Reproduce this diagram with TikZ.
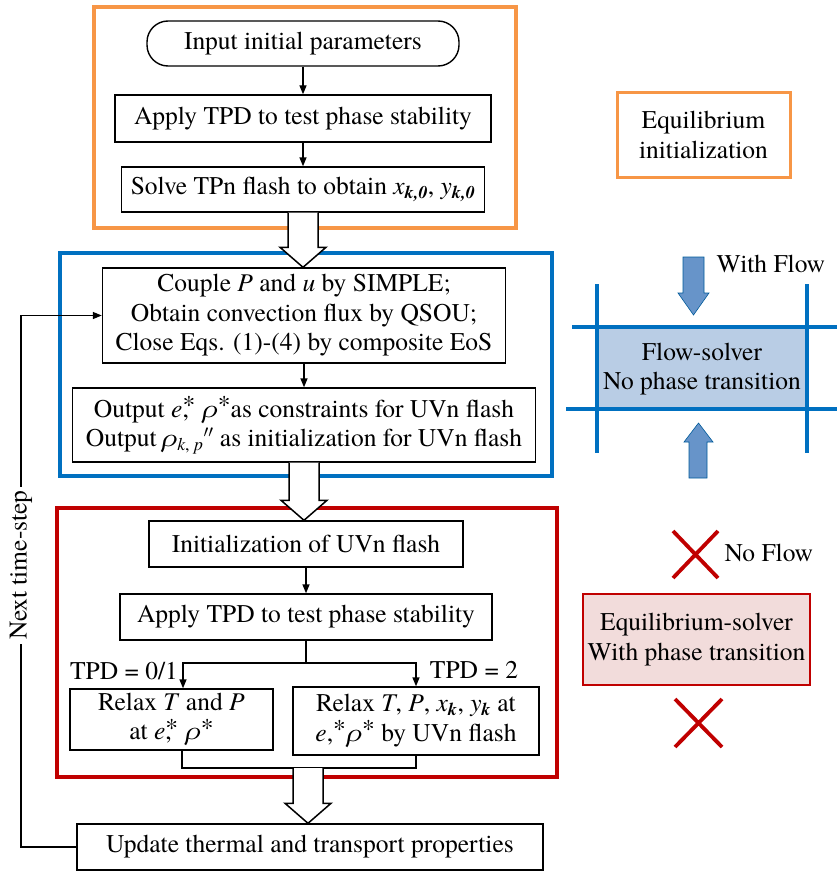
\documentclass[tikz,border=0pt]{standalone}
\usepackage{fontspec}
\setmainfont{texgyretermes}[Extension=.otf, UprightFont=*-regular, ItalicFont=*-italic, BoldFont=*-bold, BoldItalicFont=*-bolditalic]
\usetikzlibrary{calc,arrows.meta,positioning,shapes}
\definecolor{initorange}{RGB}{247,150,70}
\definecolor{flowblue}{RGB}{0,112,192}
\definecolor{eqred}{RGB}{192,0,0}
\definecolor{cellfill}{RGB}{185,205,229}
\definecolor{fatfill}{RGB}{103,148,201}
\definecolor{eqfill}{RGB}{242,220,219}
\tikzset{
    block/.style = {draw, rectangle, line width=1.4pt, align=center, inner sep=2pt},
    start/.style = {block, rounded corners=21pt},
    arrow/.style = {draw, line width=1.4pt, -{Triangle[length=9pt,width=7pt]}},
    line/.style = {draw, line width=1.4pt},
    frame/.style = {draw, line width=3.4pt},
    hollow/.style = {draw, fill=white, line width=1.5pt, line join=miter},
    cross/.style = {draw=eqred, line width=3.8pt},
    cell/.style = {draw=flowblue, line width=3.2pt},
    fat/.style = {fill=fatfill, draw=flowblue!80!black, line width=0.6pt}
}
\newcommand{\upstar}{\raisebox{0.15em}{*}}
\newcommand{\estar}{\textit{e}\rlap{,}\upstar}
\newcommand{\hollowarrow}[2]{%
    \draw[hollow] ($(#1)+(-15,0)$) -- ($(#2)+(-15,-20)$) -- ($(#2)+(-23,-20)$) -- (#2)
        -- ($(#2)+(23,-20)$) -- ($(#2)+(15,-20)$) -- ($(#1)+(15,0)$);}

\begin{document}
\begin{tikzpicture}[x=1pt, y=-1pt, font=\fontsize{25.5}{29.5}\selectfont]
    \useasboundingbox (0,0) rectangle (837,872);
    % solver frames
    \draw[frame, initorange] (94,7) rectangle (516,228);
    \draw[frame, flowblue] (60,253) rectangle (552,476);
    \draw[frame, eqred] (57,508) rectangle (557,777);

    \node[start, minimum width=312pt, minimum height=45pt] (inp) at (303,43.5) {Input initial parameters};
    \node[block, minimum width=376pt, minimum height=47pt] (tpd1) at (303,118.5) {Apply TPD to test phase stability};
    \node[block, minimum width=363pt, minimum height=45pt] (tpn) at (303,189.5) {Solve TPn flash to obtain \textit{x}\textsubscript{\textbf{\textit{k,0}}}, \textit{y}\textsubscript{\textbf{\textit{k,0}}}};
    \node[block, minimum width=403pt, minimum height=95pt] (simple) at (304,315.5) {Couple \textit{P} and \textit{u} by SIMPLE;\\Obtain convection flux by QSOU;\\Close Eqs. (1)-(4) by composite EoS};
    \node[block, minimum width=463pt, minimum height=74pt] (outp) at (304,425) {Output \estar\ \textit{ρ}\upstar as constraints for UVn flash\\Output\,\textit{ρ}\textsubscript{\textit{k}, \textit{p}}$''$ as initialization for UVn flash};
    \node[block, minimum width=314pt, minimum height=46pt] (uvinit) at (306,544) {Initialization of UVn flash};
    \node[block, minimum width=372pt, minimum height=46pt] (tpd2) at (306,617) {Apply TPD to test phase stability};
    \node[block, minimum width=203pt, minimum height=61pt] (relax1) at (171.5,719.5) {Relax \textit{T} and \textit{P}\\at \estar\ \textit{ρ}\upstar};
    \node[block, minimum width=246pt, minimum height=68pt] (relax2) at (416,721) {Relax \textit{T}, \textit{P}, \textit{x}\textsubscript{\textbf{\textit{k}}}, \textit{y}\textsubscript{\textbf{\textit{k}}} at\\\textit{e},\upstar\textit{ρ}\upstar\ by UVn flash};
    \node[block, minimum width=466pt, minimum height=46pt] (upd) at (310,847) {Update thermal and transport properties};

    \coordinate (br) at (306,663);
    \coordinate (mrg) at (308,768);
    \coordinate (loopx) at (21,0);

    \draw[arrow] (inp) -- (tpd1);
    \draw[arrow] (tpd1) -- (tpn);
    \draw[arrow] (simple) -- (outp);
    \draw[arrow] (uvinit) -- (tpd2);
    \draw[line] (tpd2) -- (br);
    \draw[arrow] (br) -| ([xshift=11.5pt]relax1.north);
    \draw[arrow] (br) -| (relax2.north);
    \draw[line] ([xshift=10.5pt]relax1.south) |- (mrg) -| (relax2.south);
    \draw[arrow] (upd.west) -- (upd.west -| loopx)
        -- node[pos=0.53, rotate=90, fill=white, inner sep=4pt] {Next time-step}
        (simple.west -| loopx) -- (simple.west);

    \node (tpd01) at (124,671) {TPD = 0/1};
    \node (tpd2l) at (474,670) {TPD = 2};

    \hollowarrow{tpn.south}{tpn.south |- simple.north}
    \hollowarrow{outp.south}{outp.south |- uvinit.north}
    \hollowarrow{mrg}{mrg |- upd.north}

    % legend
    \node[draw=initorange, line width=3pt, minimum width=173pt, minimum height=84pt, align=center] (eqinit) at (703.5,135) {Equilibrium\\initialization};

    \fill[cellfill] (597,327) rectangle (807,409);
    \draw[cell] (572,327) -- (837,327);
    \draw[cell] (566,409) -- (837,409);
    \draw[cell] (597,284) -- (597,453);
    \draw[cell] (807,284) -- (807,453);
    \node[align=center] (flowsolver) at (702,369) {Flow-solver\\No phase transition};
    \draw[fat] (683,257) -- (704,257) -- (704,293) -- (709,293) -- (693.5,315) -- (678,293) -- (683,293) -- cycle;
    \draw[fat] (689,478) -- (707,478) -- (707,442) -- (713,442) -- (698.5,423) -- (684,442) -- (689,442) -- cycle;
    \node[anchor=west] (withflow) at (713,264) {With Flow};

    \draw[cross] (673,531) -- (718,578) (673,578) -- (718,531);
    \node[anchor=west] (noflow) at (721,553) {No Flow};
    \node[draw=eqred, fill=eqfill, line width=2.4pt, minimum width=227pt, minimum height=91pt, align=center] (eqsolver) at (696.5,639.5) {Equilibrium-solver\\With phase transition};
    \draw[cross] (675,699) -- (722,747) (675,747) -- (722,699);
\end{tikzpicture}
\end{document}
